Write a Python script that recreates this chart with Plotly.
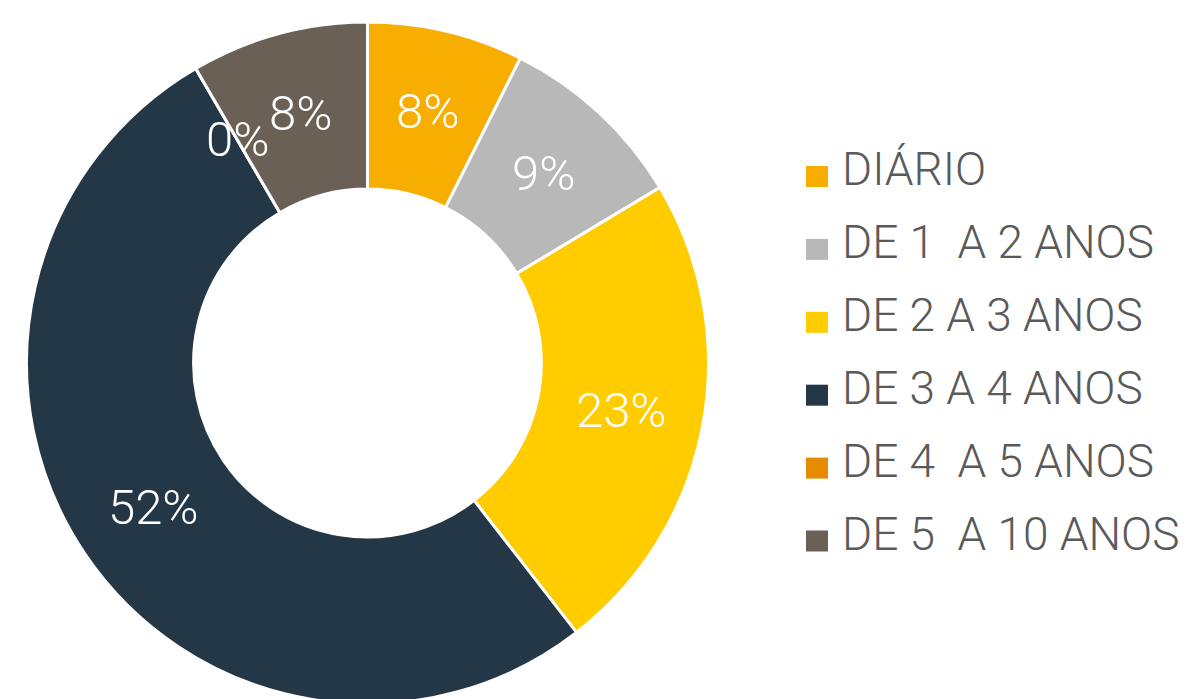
import math
import plotly.graph_objects as go

categories = ["DIÁRIO", "DE 1\u00a0\u00a0A 2 ANOS", "DE 2 A 3 ANOS", "DE 3 A 4 ANOS",
              "DE 4\u00a0\u00a0A 5 ANOS", "DE 5\u00a0\u00a0A 10 ANOS"]
values = [7.4, 9.0, 23.1, 52.1, 0, 8.4]
labels_text = ["8%", "9%", "23%", "52%", "0%", "8%"]
colors = ["#F8AE00", "#B8B8B8", "#FFCC00", "#243746", "#E68A00", "#6B6055"]

W, H = 1189, 699
FONT = "Roboto"
OFF = 8  # page body margin

# pie geometry (pixels, figure coordinates)
cx_px, cy_px, R_px = 367.5 - OFF, 363 - OFF, 341
hole = 0.51

fig = go.Figure()
fig.add_trace(go.Pie(
    labels=categories, values=values, sort=False, direction="clockwise",
    rotation=0, hole=hole,
    marker=dict(colors=colors, line=dict(color="white", width=3)),
    textinfo="none", hoverinfo="label+percent", showlegend=False,
    domain=dict(x=[(cx_px - R_px) / W, (cx_px + R_px) / W],
                y=[max(0, 1 - (cy_px + R_px) / H), 1 - (cy_px - R_px) / H]),
))

annotations = []
shapes = []

# slice labels at the middle of the ring
total = sum(values)
r_lab = R_px * (1 + hole) / 2 + 1
cum = 0
for v, t in zip(values, labels_text):
    mid = (cum + v / 2) / total * 2 * math.pi
    cum += v
    x = cx_px + r_lab * math.sin(mid)
    y = cy_px - r_lab * math.cos(mid)
    annotations.append(dict(
        x=x / W, y=1 - y / H, xref="paper", yref="paper", text=t,
        showarrow=False, xanchor="center", yanchor="middle",
        font=dict(family=FONT, size=49, color="white", weight=300),
    ))

# manual legend
row0, step = 166 - OFF, 72.9
for i, (c, col) in enumerate(zip(categories, colors)):
    top = row0 + i * step
    shapes.append(dict(type="rect", xref="paper", yref="paper",
                       x0=(806 - OFF) / W, x1=(828 - OFF) / W,
                       y0=1 - (top + 21) / H, y1=1 - top / H,
                       fillcolor=col, line=dict(width=0)))
    annotations.append(dict(
        x=(840 - OFF) / W, y=1 - (top + 3) / H, xref="paper", yref="paper", text=c,
        showarrow=False, xanchor="left", yanchor="middle",
        font=dict(family=FONT, size=46, color="#5A5A5A", weight=300),
    ))

fig.update_layout(
    width=W, height=H, margin=dict(l=0, r=0, t=0, b=0),
    paper_bgcolor="white", plot_bgcolor="white",
    annotations=annotations, shapes=shapes,
)

fig.write_html("out.html")
